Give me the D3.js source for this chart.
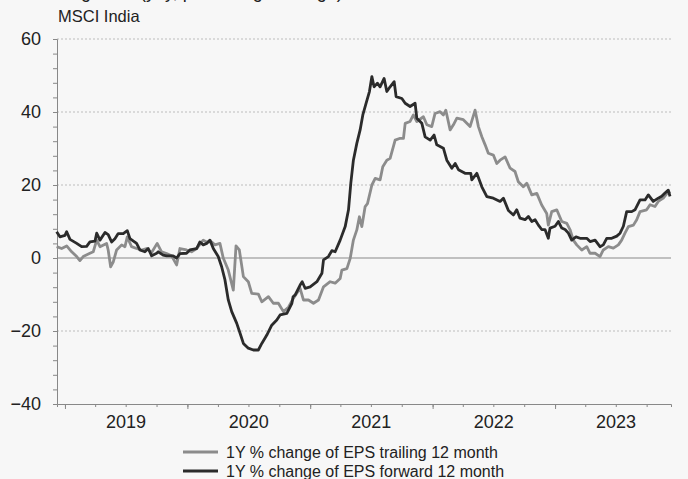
<html>
<meta charset="utf-8">
<head>
  <title>MSCI India EPS growth</title>
  <script src="https://d3js.org/d3.v7.min.js"></script>
  <style>
    body { margin: 0; background: #f7f7f7; }
    text { font-family: "Liberation Sans", Arial, sans-serif; fill: #222; }
  </style>
</head>
<body>
<script>
// decimal years (x) and % values
const fwdYears = [2018.932,2018.959,2019.000,2019.014,2019.041,2019.096,2019.136,2019.177,2019.204,2019.245,2019.259,2019.286,2019.327,2019.353,2019.381,2019.408,2019.435,2019.476,2019.509,2019.531,2019.585,2019.612,2019.653,2019.680,2019.708,2019.749,2019.762,2019.802,2019.830,2019.884,2019.912,2019.939,2019.993,2020.020,2020.075,2020.102,2020.129,2020.157,2020.184,2020.211,2020.251,2020.279,2020.306,2020.333,2020.361,2020.402,2020.429,2020.456,2020.496,2020.537,2020.578,2020.606,2020.647,2020.687,2020.728,2020.755,2020.810,2020.851,2020.861,2020.878,2020.918,2020.935,2020.959,2021.000,2021.055,2021.096,2021.109,2021.149,2021.177,2021.204,2021.245,2021.286,2021.313,2021.332,2021.353,2021.381,2021.408,2021.430,2021.457,2021.484,2021.504,2021.522,2021.549,2021.571,2021.604,2021.626,2021.653,2021.686,2021.702,2021.749,2021.776,2021.816,2021.857,2021.871,2021.912,2021.939,2021.980,2022.012,2022.034,2022.088,2022.116,2022.157,2022.184,2022.211,2022.265,2022.312,2022.320,2022.361,2022.402,2022.443,2022.496,2022.551,2022.578,2022.619,2022.660,2022.687,2022.714,2022.755,2022.782,2022.810,2022.837,2022.864,2022.891,2022.918,2022.945,2022.959,2023.000,2023.027,2023.055,2023.082,2023.109,2023.136,2023.171,2023.204,2023.259,2023.286,2023.327,2023.367,2023.394,2023.422,2023.463,2023.504,2023.531,2023.558,2023.585,2023.626,2023.653,2023.694,2023.735,2023.762,2023.802,2023.843,2023.871,2023.898,2023.925,2023.939];
const fwdValues = [7.2,5.8,6.2,7.2,5.1,4.0,3.1,3.2,4.4,4.6,6.8,4.9,7.0,6.4,4.4,5.3,6.7,6.7,7.5,5.3,4.0,2.2,1.7,2.6,0.6,1.3,1.7,0.8,0.6,0.6,0,1.2,1.3,2.2,2.6,4.4,3.6,4.0,4.9,2.6,0.4,-2.4,-6.0,-11.5,-14.7,-17.9,-20.6,-23.4,-24.7,-25.2,-25.2,-23.4,-21.1,-18.4,-17.0,-15.6,-15.2,-12.4,-10.6,-10.1,-7.4,-6.5,-8.3,-7.9,-6.5,-4.2,-0.5,0.4,2.0,1.7,4.9,8.6,13.2,20.5,26.8,31.4,35.1,39.2,42.4,45.6,49.7,46.9,47.9,46.9,49.2,45.6,46.9,48.3,44.2,43.7,42.4,41.5,42.4,38.3,36.9,33.2,32.3,33.7,31.0,30.1,26.8,24.6,25.9,24.2,23.2,23.2,21.4,23.2,19.5,16.8,16.4,15.5,16.4,13.0,11.8,13.2,10.9,10.5,11.4,10.0,10.5,9.0,7.8,7.8,5.4,8.2,8.7,10.0,8.2,7.8,6.8,4.9,5.8,5.4,5.4,4.5,4.9,3.1,3.6,5.4,5.4,6.0,6.8,8.7,12.7,12.7,13.2,15.9,15.9,17.3,15.5,16.4,16.9,17.8,18.6,16.9];

const trlYears = [2018.932,2018.973,2019.014,2019.055,2019.096,2019.122,2019.149,2019.204,2019.231,2019.259,2019.286,2019.340,2019.353,2019.373,2019.394,2019.422,2019.463,2019.490,2019.509,2019.544,2019.585,2019.626,2019.667,2019.708,2019.753,2019.789,2019.830,2019.871,2019.912,2019.939,2019.993,2020.034,2020.075,2020.129,2020.157,2020.198,2020.224,2020.265,2020.292,2020.333,2020.374,2020.396,2020.423,2020.456,2020.496,2020.524,2020.578,2020.606,2020.660,2020.700,2020.741,2020.782,2020.823,2020.864,2020.918,2020.945,2020.986,2021.027,2021.068,2021.109,2021.163,2021.204,2021.245,2021.259,2021.300,2021.327,2021.353,2021.381,2021.402,2021.422,2021.449,2021.468,2021.504,2021.531,2021.571,2021.593,2021.626,2021.653,2021.694,2021.735,2021.762,2021.776,2021.816,2021.843,2021.871,2021.925,2021.953,2021.993,2022.020,2022.061,2022.088,2022.108,2022.143,2022.170,2022.198,2022.251,2022.306,2022.347,2022.374,2022.402,2022.429,2022.455,2022.496,2022.524,2022.551,2022.592,2022.633,2022.673,2022.700,2022.741,2022.769,2022.810,2022.851,2022.891,2022.932,2022.945,2022.973,2023.014,2023.055,2023.096,2023.122,2023.149,2023.177,2023.218,2023.259,2023.286,2023.327,2023.367,2023.394,2023.435,2023.476,2023.517,2023.544,2023.571,2023.599,2023.640,2023.667,2023.694,2023.748,2023.776,2023.816,2023.843,2023.884,2023.925,2023.939];
const trlValues = [3.1,2.6,3.3,1.7,0.4,-0.7,0.4,1.3,1.7,4.9,3.1,4.0,2.2,-2.4,-1.1,2.2,3.6,3.1,5.8,3.1,2.6,2.2,2.6,1.5,4.0,1.7,1.2,0.6,-1.9,2.6,2.2,1.7,2.6,4.9,4.4,4.4,3.6,4.0,0,-3.3,-8.8,3.3,2.2,-5.1,-6.5,-9.7,-9.9,-12.0,-10.6,-12.4,-12.4,-14.7,-13.5,-11.0,-8.3,-11.5,-11.5,-12.4,-11.5,-7.9,-6.5,-6.9,-5.6,-3.3,-2.9,-0.1,4.9,7.7,11.3,8.6,14.1,14.9,20.0,21.8,21.4,25.0,26.8,27.3,32.3,32.8,32.8,36.9,37.4,39.2,37.4,38.7,36.5,36.0,39.6,40.1,39.2,40.5,35.1,36.5,38.3,37.9,36.0,40.5,36.0,33.2,31.0,28.7,28.2,25.9,26.8,27.7,24.6,23.7,20.9,19.5,20.5,17.3,17.7,14.5,12.2,9.0,12.7,13.2,10.0,9.5,7.8,4.9,3.6,2.2,3.1,1.3,1.3,0.4,2.2,3.1,2.7,3.6,4.9,6.8,8.6,9.0,10.5,12.7,13.2,14.6,14.1,15.5,16.4,18.2,17.7];

const yLabels = [-40, -20, 0, 20, 40, 60];
const yearLabels = [2019, 2020, 2021, 2022, 2023];
const seriesNames = ['1Y % change of EPS trailing 12 month', '1Y % change of EPS forward 12 month'];
const seriesColors = ['#8c8c8c', '#2b2b2b'];

const margin = { top: 39, right: 17, bottom: 75, left: 57 };
const width = 688 - margin.left - margin.right;
const height = 479 - margin.top - margin.bottom;

function toDate(yr) {
  const y0 = Math.floor(yr);
  const a = new Date(y0, 0, 1), b = new Date(y0 + 1, 0, 1);
  return new Date(+a + (yr - y0) * (b - a));
}

const series = [
  trlYears.map((t, i) => ({ date: toDate(t), value: trlValues[i] })),
  fwdYears.map((t, i) => ({ date: toDate(t), value: fwdValues[i] }))
];

const svgRoot = d3.select('body')
  .append('svg')
  .attr('width', 688)
  .attr('height', 479)
  .style('display', 'block');

svgRoot.append('rect').attr('width', 688).attr('height', 479).attr('fill', '#f7f7f7');

// title sits mostly above the top edge, as in the source image
svgRoot.append('text')
  .attr('x', 40)
  .attr('y', -2)
  .style('font-size', '18px')
  .text('EPS growth (yoy, percentage change)');

svgRoot.append('text')
  .attr('x', 58)
  .attr('y', 22)
  .style('font-size', '16.5px')
  .text('MSCI India');

const svg = svgRoot.append('g')
  .attr('transform', `translate(${margin.left}, ${margin.top})`);

const xScale = d3.scaleTime()
  .domain([toDate(2018.935), toDate(2023.947)])
  .range([0, width]);

const yScale = d3.scaleLinear()
  .domain([-40, 60])
  .range([height, 0]);

// grid
svg.selectAll('.grid').data(yLabels.filter(d => d !== 0 && d !== -40))
  .enter()
  .append('line')
  .attr('x1', 0).attr('x2', width)
  .attr('y1', d => yScale(d)).attr('y2', d => yScale(d))
  .attr('stroke', '#bdbdbd')
  .attr('stroke-dasharray', '2,2');

svg.append('line')
  .attr('x1', 0).attr('x2', width)
  .attr('y1', yScale(0)).attr('y2', yScale(0))
  .attr('stroke', '#8a8a8a')
  .attr('stroke-width', 1.2);

// y axis: minor ticks every 4, labels every 20
svg.append('g')
  .call(d3.axisLeft(yScale).tickValues(d3.range(-40, 61, 4)).tickSize(4).tickFormat(''))
  .call(g => g.selectAll('line').attr('stroke', '#888'))
  .call(g => g.select('.domain').attr('stroke', '#888'));

svg.append('g')
  .call(d3.axisLeft(yScale).tickValues(yLabels).tickSize(4).tickPadding(12))
  .call(g => g.select('.domain').remove())
  .call(g => g.selectAll('line').attr('stroke', '#888'))
  .call(g => g.selectAll('text').style('font-size', '18px').attr('fill', '#222'));

// x axis: quarter ticks, longer year ticks, year labels mid-year
const quarters = d3.timeMonth.every(3).range(xScale.domain()[0], xScale.domain()[1]);
svg.append('g')
  .attr('transform', `translate(0, ${height})`)
  .call(d3.axisBottom(xScale).tickValues(quarters).tickSize(3).tickFormat(''))
  .call(g => g.selectAll('line').attr('stroke', '#888'))
  .call(g => g.select('.domain').attr('stroke', '#888'));

svg.append('g')
  .attr('transform', `translate(0, ${height})`)
  .call(d3.axisBottom(xScale).tickValues(yearLabels.map(y => new Date(y, 0, 1))).tickSize(5).tickFormat(''))
  .call(g => g.select('.domain').remove())
  .call(g => g.selectAll('line').attr('stroke', '#888'));

svg.selectAll('.year').data(yearLabels)
  .enter()
  .append('text')
  .attr('class', 'year')
  .attr('x', d => xScale(new Date(d, 6, 2)))
  .attr('y', height + 24)
  .attr('text-anchor', 'middle')
  .style('font-size', '18px')
  .text(d => d);

const line = d3.line()
  .x(d => xScale(d.date))
  .y(d => yScale(d.value));

svg.selectAll('.series').data(series)
  .enter()
  .append('path')
  .attr('class', 'series')
  .attr('fill', 'none')
  .attr('stroke', (d, i) => seriesColors[i])
  .attr('stroke-width', 2.8)
  .attr('stroke-linejoin', 'round')
  .attr('d', line);

// legend
const legend = svgRoot.selectAll('.legend').data(seriesNames)
  .enter()
  .append('g')
  .attr('class', 'legend')
  .attr('transform', (d, i) => `translate(183, ${452 + i * 19})`);

legend.append('line')
  .attr('x1', 0).attr('x2', 35)
  .attr('stroke', (d, i) => seriesColors[i])
  .attr('stroke-width', 3);

legend.append('text')
  .attr('x', 43)
  .attr('y', 5.5)
  .style('font-size', '16px')
  .text(d => d);
</script>
</body>
</html>
